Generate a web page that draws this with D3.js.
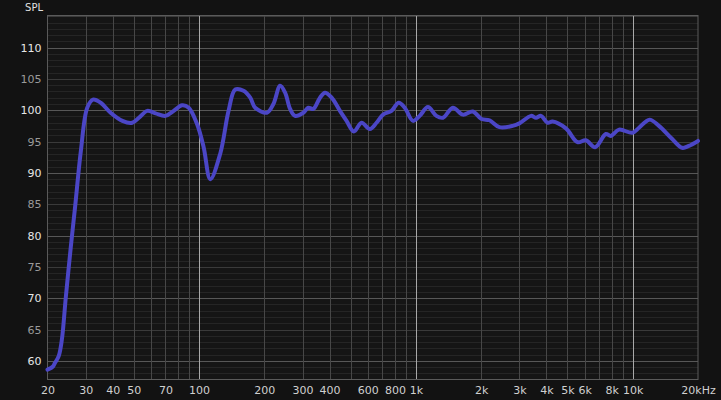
<!DOCTYPE html>
<html><head><meta charset="utf-8">
<script src="https://cdn.jsdelivr.net/npm/d3@7"></script>
<style>
html,body{margin:0;padding:0;background:#121212;}
svg{display:block;}
</style></head>
<body>
<svg id="chart" width="721" height="400"></svg>
<script>
// Frequency (Hz) and SPL (dB)
const freqs = [20,21.2,21.6,22.55,23.3,24.3,25.6,26.8,28.5,30.5,32.4,35.2,39.1,44.3,49.2,52.8,57.7,63,70,76.4,83.5,89.6,97.9,105,112.7,125.3,136.8,146.9,160.4,172.2,181.5,205.4,220.3,236.5,249.4,263,277.2,302.6,319.1,336.5,361.2,380.8,408.8,446.4,479,517.6,561.6,613,658.2,705.9,771.6,833.6,888.3,969.8,1041,1136.6,1243,1332.5,1481,1647,1830,2007,2184,2428,2795,3001,3396,3581,3776,4050,4269,4920,5564,6080,6709,7515,7921,8650,9958,10690,11946,13210,15210,16900,18150,20000];
const spl = [58.6,59.1,59.6,60.8,63.4,70.2,78.1,84.5,93.5,100.4,101.7,101.2,99.6,98.3,98.0,98.8,99.9,99.5,99.1,99.9,100.8,100.4,97.8,94.1,89.0,93.1,99.9,103.3,103.1,102.0,100.4,99.6,101.0,103.9,102.8,100.2,99.1,99.6,100.4,100.2,102.0,102.8,102.0,99.9,98.3,96.6,98.0,97.0,98.0,99.3,99.9,101.2,100.4,98.3,99.1,100.5,99.1,98.8,100.4,99.3,99.8,98.6,98.4,97.3,97.5,97.9,99.1,98.8,99.1,98.0,98.2,97.1,94.9,95.2,94.1,96.2,95.9,96.9,96.4,97.2,98.5,97.5,95.4,94.0,94.3,95.1];
const yTicks = [60,65,70,75,80,85,90,95,100,105,110];
const xTickValues = [20,30,40,50,70,100,200,300,400,600,800,1000,2000,3000,4000,5000,6000,8000,10000,20000];
const xTickLabels = ["20","30","40","50","70","100","200","300","400","600","800","1k","2k","3k","4k","5k","6k","8k","10k","20kHz"];

const svg = d3.select("#chart");
const L = 47.5, R = 698, T = 15, B = 379;
const x = d3.scaleLog().domain([20, 20000]).range([L, R]);
const y = d3.scaleLinear().domain([57.1, 115.2]).range([B, T]);

svg.append("rect").attr("width",721).attr("height",400).attr("fill","#121212");
svg.append("rect").attr("x",L).attr("y",T).attr("width",R-L).attr("height",B-T).attr("fill","#151515");

const g = svg.append("g");
// horizontal grid every 1 dB
const hLines = d3.range(58, 116, 1);
g.selectAll("line.h").data(hLines).join("line")
  .attr("x1",L).attr("x2",R)
  .attr("y1",d=>Math.round(y(d))+0.5).attr("y2",d=>Math.round(y(d))+0.5)
  .attr("stroke", d => d%10===0 ? "#575757" : (d%5===0 ? "#3a3a3a" : "#252525"))
  .attr("stroke-width",1);
// vertical grid at 1..9 multiples
const vLines = [];
[10,100,1000,10000].forEach(dec => { for (let m=1;m<=9;m++){ const f=dec*m; if (f>20 && f<20000) vLines.push(f);} });
g.selectAll("line.v").data(vLines).join("line")
  .attr("y1",T).attr("y2",B)
  .attr("x1",d=>Math.round(x(d))+0.5).attr("x2",d=>Math.round(x(d))+0.5)
  .attr("stroke", d => [100,1000,10000].includes(d) ? "#a8a8a8" : "#474747")
  .attr("stroke-width",1);
// border
svg.append("rect").attr("x",L).attr("y",T+0.5).attr("width",R-L).attr("height",B-T)
  .attr("fill","none").attr("stroke","#5a5a5a").attr("stroke-width",1);

// y labels
const yAxis = d3.axisLeft(y).tickValues(yTicks).tickSize(0).tickPadding(6);
const ya = svg.append("g").attr("transform",`translate(${L},0)`).call(yAxis);
ya.select(".domain").remove();
ya.selectAll("text").attr("font-family","DejaVu Sans").attr("font-size",11)
  .attr("fill", d => d%10===0 ? "#e6e6e6" : "#9a9a9a");

// x labels
const xAxis = d3.axisBottom(x).tickValues(xTickValues).tickSize(0).tickPadding(7)
  .tickFormat((d,i)=>xTickLabels[i]);
const xa = svg.append("g").attr("transform",`translate(0,${B})`).call(xAxis);
xa.select(".domain").remove();
xa.selectAll("text").attr("font-family","DejaVu Sans").attr("font-size",11).attr("fill","#d0d0d0");

svg.append("text").attr("x",43).attr("y",11).attr("text-anchor","end")
  .attr("font-family","DejaVu Sans").attr("font-size",10).attr("fill","#e0e0e0").text("SPL");

// curve
const data = freqs.map((f,i)=>({f, v: spl[i]}));
const line = d3.line().x(d=>x(d.f)).y(d=>y(d.v)).curve(d3.curveCatmullRom.alpha(0.5));
svg.append("path").datum(data).attr("d",line)
  .attr("fill","none").attr("stroke","#4b46c6").attr("stroke-width",4)
  .attr("stroke-linejoin","round").attr("stroke-linecap","round");
</script>
</body></html>
